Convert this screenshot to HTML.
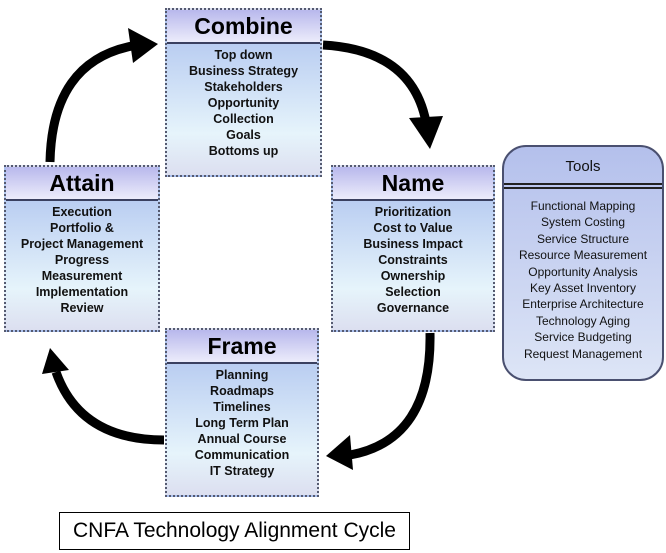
<!DOCTYPE html>
<html><head><meta charset="utf-8"><style>
body{margin:0;width:666px;height:553px;background:#fff;position:relative;overflow:hidden;font-family:"Liberation Sans",Arial,sans-serif}
.box{position:absolute;border:2px dotted #555a70;box-sizing:border-box;background:linear-gradient(#a9bfee,#e6f4fb 75%,#dcdff0)}
.hd{height:32px;border-bottom:2px solid #3a4060;background:linear-gradient(#b8b8ec,#ececfb);text-align:center;font-weight:bold;font-size:23px;line-height:32px;color:#000}
.bd{text-align:center;font-weight:bold;font-size:12.5px;line-height:16px;padding-top:3px;color:#111}
.tools{position:absolute;left:502px;top:145px;width:162px;height:236px;border:2px solid #4a5070;border-radius:24px;box-sizing:border-box;background:linear-gradient(#b4c0ec,#dde5f6);text-align:center;font-size:12px;line-height:16.4px;color:#111}
.cap{position:absolute;left:59px;top:512px;width:351px;height:38px;border:1px solid #000;box-sizing:border-box;font-size:21px;line-height:36px;text-align:center}
</style></head><body>
<svg width="666" height="553" style="position:absolute;left:0;top:0">
<g fill="none" stroke="#000" stroke-width="9">
<path d="M50,162 Q52,62 132,46"/>
<path d="M323,45 Q412,50 426,122"/>
<path d="M430,333 Q432,440 350,455"/>
<path d="M164,440 Q80,440 56,372"/>
</g>
<g fill="#000">
<polygon points="158,44 128,28 133,63"/>
<polygon points="430,149 409,118 443,116"/>
<polygon points="326,456 350,435 353,470"/>
<polygon points="50,348 42,374 69,370"/>
</g>
</svg>
<div class="box" style="left:165px;top:8px;width:157px;height:169px"><div class="hd">Combine</div><div class="bd">Top down<br>Business Strategy<br>Stakeholders<br>Opportunity<br>Collection<br>Goals<br>Bottoms up</div></div>
<div class="box" style="left:4px;top:165px;width:156px;height:167px"><div class="hd">Attain</div><div class="bd">Execution<br>Portfolio &amp;<br>Project Management<br>Progress<br>Measurement<br>Implementation<br>Review</div></div>
<div class="box" style="left:331px;top:165px;width:164px;height:167px"><div class="hd">Name</div><div class="bd">Prioritization<br>Cost to Value<br>Business Impact<br>Constraints<br>Ownership<br>Selection<br>Governance</div></div>
<div class="box" style="left:165px;top:328px;width:154px;height:169px"><div class="hd">Frame</div><div class="bd">Planning<br>Roadmaps<br>Timelines<br>Long Term Plan<br>Annual Course<br>Communication<br>IT Strategy</div></div>
<div class="tools"><div style="font-size:15px;line-height:40px;height:36px">Tools</div><div style="border-top:2px solid #222;border-bottom:2px solid #222;height:2px;margin:0 0 9px"></div>Functional Mapping<br>System Costing<br>Service Structure<br>Resource Measurement<br>Opportunity Analysis<br>Key Asset Inventory<br>Enterprise Architecture<br>Technology Aging<br>Service Budgeting<br>Request Management</div>
<div class="cap">CNFA Technology Alignment Cycle</div>
</body></html>
